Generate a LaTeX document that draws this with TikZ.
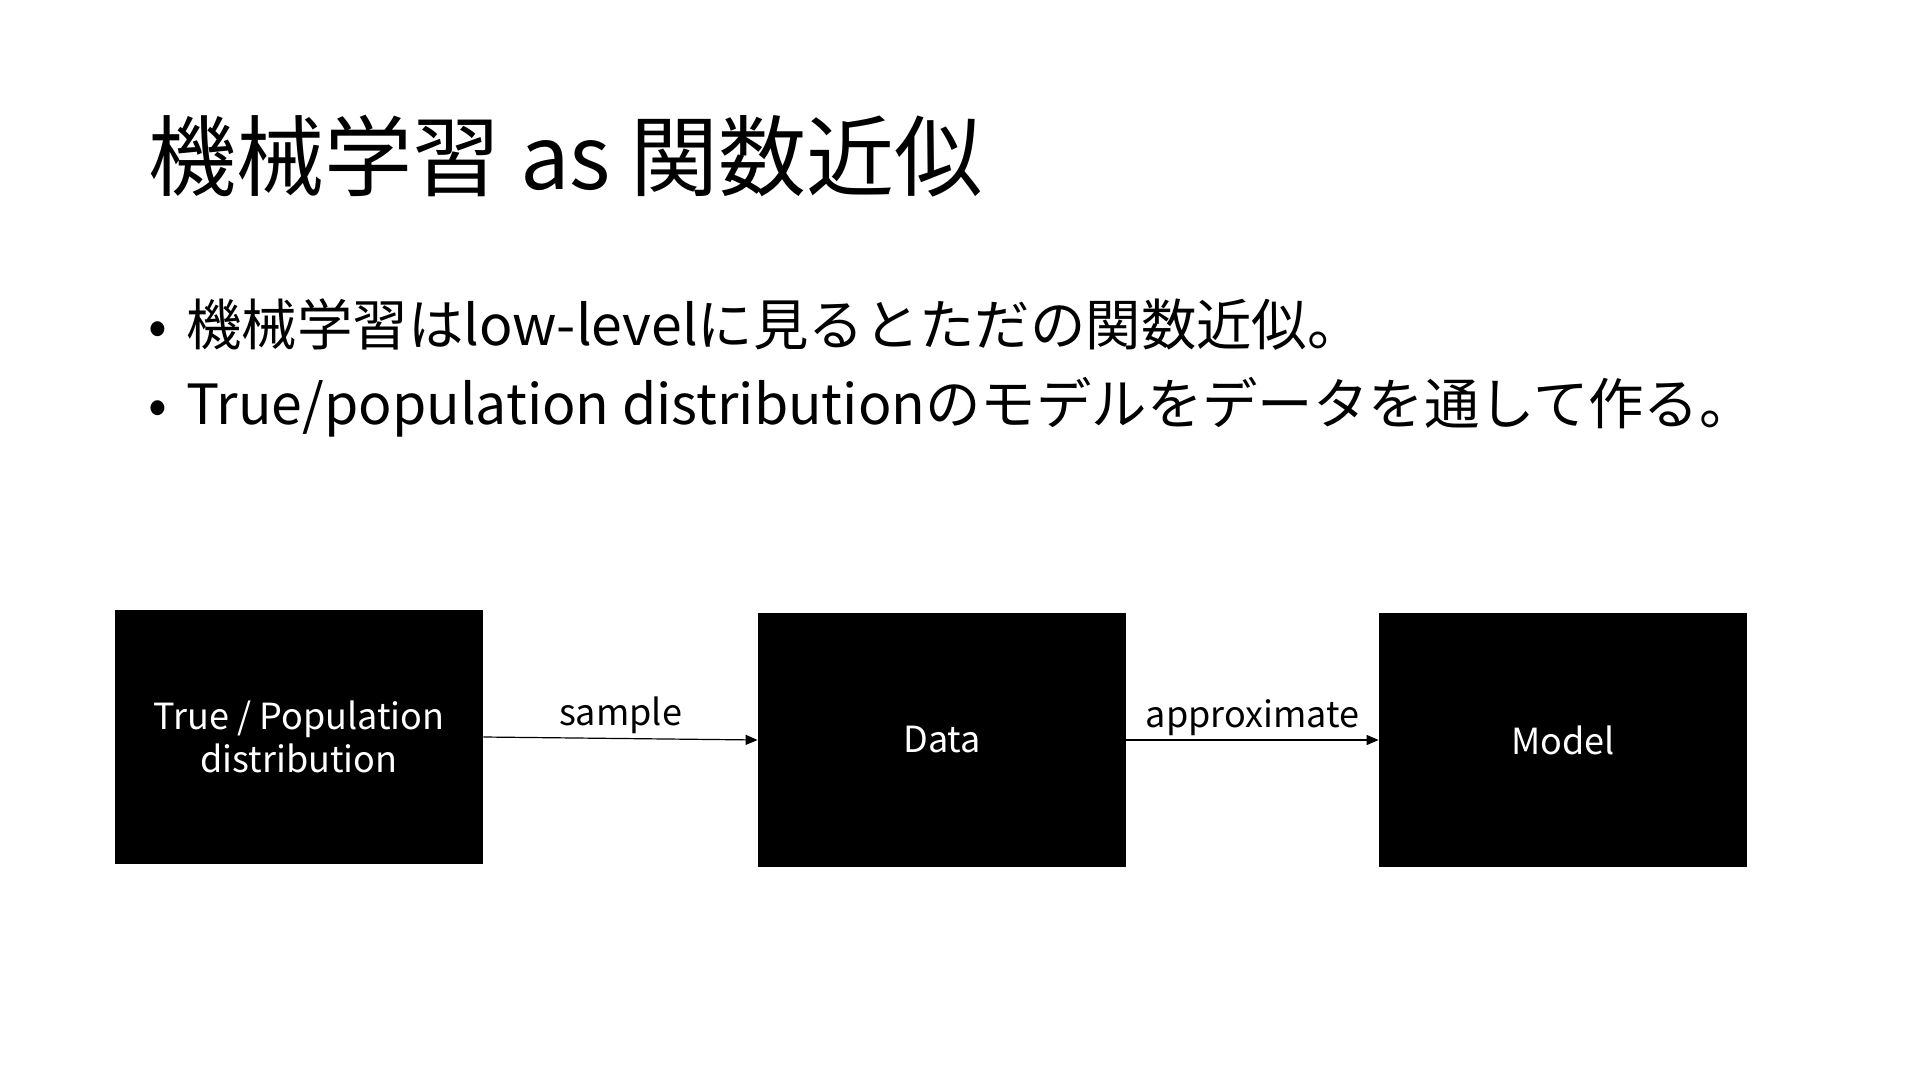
\documentclass[tikz,border=0pt]{standalone}
\usepackage{fontspec}
\setmainfont{Noto Sans CJK JP}
\usetikzlibrary{
    arrows.meta,
    positioning
}
\tikzset{
    block/.style={fill=black, text=white, minimum width=184pt, minimum height=127pt, align=center, font=\fontsize{18pt}{21.5pt}\selectfont},
    flow/.style={-{Triangle[length=6pt, width=5pt]}, line width=0.6pt},
    flowlabel/.style={font=\fontsize{18pt}{21.5pt}\selectfont, inner sep=2pt},
    bullet/.style={anchor=base west, inner sep=0pt, font=\fontsize{27.7pt}{34pt}\selectfont}
}

\begin{document}
\begin{tikzpicture}[x=0.5pt, y=-0.5pt]
    \useasboundingbox (0, 0) rectangle (1920, 1080);
    \node[anchor=base west, inner sep=0pt, font=\fontsize{44pt}{52pt}\selectfont] (title) at (148, 190) {機械学習 as 関数近似};
    \node[bullet] (dotA) at (148, 346) {•};
    \node[bullet] (lineA) at (186, 346) {機械学習はlow-levelに見るとただの関数近似。};
    \node[bullet] (dotB) at (148, 424) {•};
    \node[bullet] (lineB) at (186, 424) {True/population distributionのモデルをデータを通して作る。};
    \node[block] (true) at (299, 737) {True / Population\\distribution};
    \node[block] (data) at (942, 740) {Data};
    \node[block] (model) at (1563, 740) {Model};
    \draw[flow] (true.east) -- node[flowlabel, above] (sample) {sample} (data.west);
    \draw[flow] (data.east) -- node[flowlabel, above] (approx) {approximate} (model.west);
\end{tikzpicture}
\end{document}
